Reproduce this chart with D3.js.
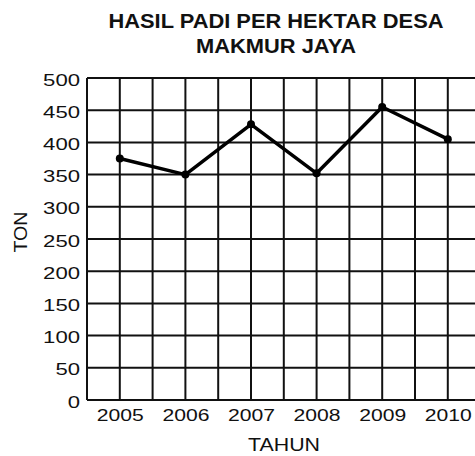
<!DOCTYPE html>
<html>
<head>
<meta charset="utf-8">
<script src="https://cdn.jsdelivr.net/npm/d3@7"></script>
<style>
  body { margin: 0; background: #fff; }
  svg { display: block; font-family: "Liberation Sans", Arial, sans-serif; }
</style>
</head>
<body>
<svg id="chart" width="475" height="456"></svg>
<script>
var titleLines = ["HASIL PADI PER HEKTAR DESA", "MAKMUR JAYA"];
var years = [2005, 2006, 2007, 2008, 2009, 2010];
var tonValues = [375, 350, 428, 352, 455, 405];
var yTicks = [0, 50, 100, 150, 200, 250, 300, 350, 400, 450, 500];
var xLabel = "TAHUN";
var yLabel = "TON";

var svg = d3.select('#chart');

var x = d3.scaleLinear().domain([2004.5, 2010.5]).range([87, 480.6]);
var y = d3.scaleLinear().domain([0, 500]).range([400, 78]);

// grid lines every half year and every 50 ton
var halfYears = d3.range(2004.5, 2010.6, 0.5);
svg.append('g')
    .selectAll('line.v')
    .data(halfYears)
    .enter().append('line')
    .attr('x1', function(d) { return x(d); })
    .attr('x2', function(d) { return x(d); })
    .attr('y1', y(500))
    .attr('y2', y(0))
    .attr('stroke', '#111')
    .attr('stroke-width', 2)
;
svg.append('g')
    .selectAll('line.h')
    .data(yTicks)
    .enter().append('line')
    .attr('x1', x(2004.5))
    .attr('x2', x(2010.5))
    .attr('y1', function(d) { return y(d); })
    .attr('y2', function(d) { return y(d); })
    .attr('stroke', '#111')
    .attr('stroke-width', 2)
;

// axis labels
var yAxis = svg.append('g')
    .attr('transform', 'translate(' + x(2004.5) + ',0)')
    .call(d3.axisLeft(y).tickValues(yTicks).tickSize(0).tickPadding(7));
yAxis.select('.domain').remove();
yAxis.selectAll('text')
    .attr('fill', '#111')
    .style('font-size', '17px')
    .attr('dy', '0.42em')
    .attr('textLength', function(d) { return String(d).length * 12.3; })
    .attr('lengthAdjust', 'spacingAndGlyphs')
;

var xAxis = svg.append('g')
    .attr('transform', 'translate(0,' + y(0) + ')')
    .call(d3.axisBottom(x).tickValues(years).tickFormat(d3.format('d')).tickSize(0).tickPadding(9));
xAxis.select('.domain').remove();
xAxis.selectAll('text')
    .attr('fill', '#111')
    .style('font-size', '17px')
    .attr('textLength', 47)
    .attr('lengthAdjust', 'spacingAndGlyphs')
;

// data line
var line = d3.line()
    .x(function(d, i) { return x(years[i]); })
    .y(function(d) { return y(d); });

svg.append('path')
    .datum(tonValues)
    .attr('d', line)
    .attr('fill', 'none')
    .attr('stroke', '#000')
    .attr('stroke-width', 3.5)
    .attr('stroke-linejoin', 'round')
;
svg.selectAll('circle.pt')
    .data(tonValues)
    .enter().append('circle')
    .attr('cx', function(d, i) { return x(years[i]); })
    .attr('cy', function(d) { return y(d); })
    .attr('r', 4)
    .attr('fill', '#000')
;

// title
svg.selectAll('text.title')
    .data(titleLines)
    .enter().append('text')
    .attr('class', 'title')
    .attr('x', 276)
    .attr('y', function(d, i) { return 28 + i * 25; })
    .attr('text-anchor', 'middle')
    .style('font-size', '19.5px')
    .style('font-weight', 'bold')
    .attr('fill', '#111')
    .attr('textLength', function(d, i) { return i === 0 ? 335 : 160; })
    .attr('lengthAdjust', 'spacingAndGlyphs')
    .text(function(d) { return d; })
;

svg.append('text')
    .attr('x', 284)
    .attr('y', 451)
    .attr('text-anchor', 'middle')
    .style('font-size', '18px')
    .attr('fill', '#111')
    .attr('textLength', 72)
    .attr('lengthAdjust', 'spacingAndGlyphs')
    .text(xLabel)
;

svg.append('text')
    .attr('transform', 'translate(27,232) rotate(-90)')
    .attr('text-anchor', 'middle')
    .style('font-size', '18px')
    .attr('fill', '#111')
    .attr('textLength', 41)
    .attr('lengthAdjust', 'spacingAndGlyphs')
    .text(yLabel)
;
</script>
</body>
</html>
